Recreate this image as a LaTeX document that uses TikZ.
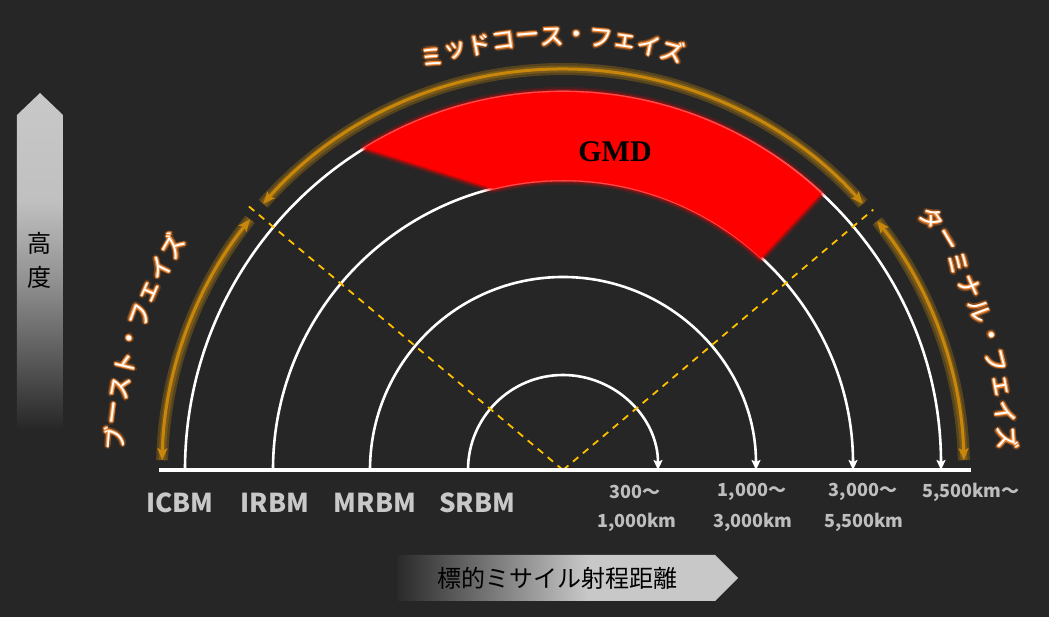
\documentclass[tikz,border=0pt]{standalone}
\usepackage{fontspec}
\newfontfamily\jp{Noto Sans CJK JP}
\newfontfamily\gmdfont{Liberation Serif}
\usetikzlibrary{arrows.meta}
\definecolor{bg}{HTML}{262626}
\definecolor{bgb}{HTML}{2A2A2A}
\definecolor{altA}{HTML}{484848}
\definecolor{altB}{HTML}{909090}
\definecolor{altC}{HTML}{C0C0C0}
\definecolor{altD}{HTML}{C8C8C8}
\definecolor{phaseor}{HTML}{C8860A}
\definecolor{phaseglow}{HTML}{C88A10}
\definecolor{glowor}{HTML}{F07A20}
\definecolor{glowtwo}{HTML}{F08A38}
\definecolor{dashy}{HTML}{FFC000}
\definecolor{lblgray}{HTML}{C8C8C8}
\definecolor{rnggray}{HTML}{BEBEBE}
\pgfdeclareverticalshading{altshade}{100bp}{color(0bp)=(bg); color(25bp)=(bg); color(32bp)=(altA); color(47bp)=(altB); color(59bp)=(altC); color(75bp)=(altD); color(100bp)=(altD)}
\pgfdeclarehorizontalshading{rangeshade}{100bp}{color(0bp)=(bgb); color(25bp)=(bgb); color(53bp)=(altD); color(100bp)=(altD)}
\tikzset{
  wharc/.style={draw=white, line width=2.6pt, -{Stealth[length=10pt,width=9pt,inset=2pt]}},
  phasearc/.style={draw=phaseor, line width=3pt, {Stealth[length=12pt,width=10pt,inset=2.5pt]}-{Stealth[length=12pt,width=10pt,inset=2.5pt]}},
  phaseglowarc/.style={draw=phaseglow, line width=12pt, opacity=.3},
  phaseglowarcb/.style={draw=phaseglow, line width=7pt, opacity=.3},
  ph/.style={font=\jp\fontsize{24}{24}\selectfont, inner sep=0pt},
  misslbl/.style={font=\jp\bfseries\fontsize{26}{26}\selectfont, text=lblgray, inner sep=0pt},
  rnglbl/.style={font=\jp\bfseries\fontsize{18}{18}\selectfont, text=rnggray, inner sep=0pt},
  blk/.style={font=\jp\fontsize{24}{24}\selectfont, text=black, inner sep=0pt},
}
\newcommand\gchar[4]{%
  \foreach \gg in {0,45,...,315}{\node[ph, text=glowor, opacity=.22, rotate=#1-90, shift={(\gg:2.6)}] at (#1:#2) {#3};}
  \foreach \gg in {0,60,...,300}{\node[ph, text=glowtwo, rotate=#1-90, shift={(\gg:1.0)}] at (#1:#2) {#3};}
  \node[ph, text=white, rotate=#1-90] (#4) at (#1:#2) {#3};}
\begin{document}
\begin{tikzpicture}[x=1pt,y=1pt]
\useasboundingbox (-563,-147) rectangle (486,470);
\fill[bg] (-563,-147) rectangle (486,470);
\coordinate (C) at (0,0);
% altitude arrow
\shade[shading=altshade] (-546,40) -- (-546,355) -- (-523,377) -- (-500,355) -- (-500,40) -- cycle;
\node[blk] (alt1) at (-523,227) {高};
\node[blk] (alt2) at (-523,193) {度};
% range arrow
\shade[shading=rangeshade] (-166,-85) -- (152,-85) -- (175,-108) -- (152,-131) -- (-166,-131) -- cycle;
\node[blk] (rng) at (-5,-108) {標的ミサイル射程距離};
% missile arcs
\draw[wharc] (180:95) arc[start angle=180, end angle=0, radius=95];
\draw[wharc] (180:193) arc[start angle=180, end angle=0, radius=193];
\draw[wharc] (180:290) arc[start angle=180, end angle=0, radius=290];
\draw[wharc] (180:378) arc[start angle=180, end angle=0, radius=378];
% GMD region
\path[save path=\gmdpath] (121.6:378) arc[start angle=121.6, end angle=47, radius=378] -- (47:290) arc[start angle=47, end angle=104, radius=290] -- cycle;
\draw[red, line width=10pt, opacity=.15, line join=round, use path=\gmdpath];
\draw[red, line width=6pt, opacity=.3, line join=round, use path=\gmdpath];
\draw[red, line width=3pt, opacity=.5, line join=round, use path=\gmdpath];
\fill[red, use path=\gmdpath];
\node[font=\gmdfont\bfseries\fontsize{30}{30}\selectfont, text=black, inner sep=0pt] (gmd) at (52,318) {GMD};
% dashed
\coordinate (dl) at (140:412);
\coordinate (dr) at (40:405);
\draw[dashy, line width=1.8pt, dash pattern=on 7pt off 6pt] (C) -- (dl);
\draw[dashy, line width=1.8pt, dash pattern=on 7pt off 6pt] (C) -- (dr);
% baseline
\coordinate (bl) at (-404,0);
\coordinate (br) at (408,0);
\draw[white, line width=3.5pt] (bl) -- (br);
% phase arcs
\foreach \s/\e in {138.4/41.6, 178.6/141.3, 38.4/1.4}{
  \draw[phaseglowarc] (\s:401) arc[start angle=\s, end angle=\e, radius=401];
  \draw[phaseglowarcb] (\s:401) arc[start angle=\s, end angle=\e, radius=401];
  \draw[phasearc] (\s:401) arc[start angle=\s, end angle=\e, radius=401];
}
% phase texts
\foreach \c [count=\i] in {ミ,ッ,ド,コ,ー,ス,・,フ,ェ,イ,ズ}{%
  \pgfmathsetmacro\ang{107.6-(\i-1)*3.23}\gchar{\ang}{433}{\c}{mid\i}}
\foreach \c [count=\i] in {ブ,ー,ス,ト,・,フ,ェ,イ,ズ}{%
  \pgfmathsetmacro\ang{176-(\i-1)*3.225}\gchar{\ang}{450}{\c}{bst\i}}
\foreach \c [count=\i] in {タ,ー,ミ,ナ,ル,・,フ,ェ,イ,ズ}{%
  \pgfmathsetmacro\ang{34.3-(\i-1)*3.356}\gchar{\ang}{446}{\c}{trm\i}}
% labels
\node[misslbl] (icbm) at (-383,-33) {ICBM};
\node[misslbl] (irbm) at (-288,-33) {IRBM};
\node[misslbl] (mrbm) at (-188,-33) {MRBM};
\node[misslbl] (srbm) at (-86,-33) {SRBM};
\node[rnglbl] (r1a) at (72,-22) {300～};
\node[rnglbl] (r1b) at (74,-52) {1,000km};
\node[rnglbl] (r2a) at (189,-22) {1,000～};
\node[rnglbl] (r2b) at (190,-52) {3,000km};
\node[rnglbl] (r3a) at (300,-22) {3,000～};
\node[rnglbl] (r3b) at (301,-52) {5,500km};
\node[rnglbl] (r4a) at (408,-22) {5,500km～};
\end{tikzpicture}
\end{document}
